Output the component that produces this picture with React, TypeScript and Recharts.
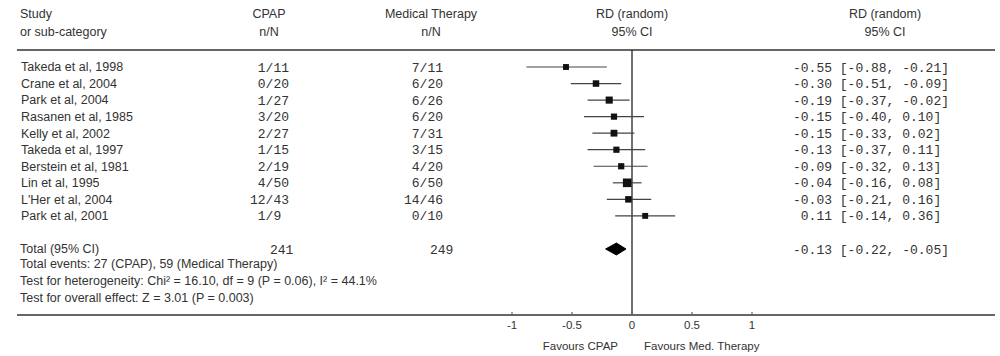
import React from 'react';
import { ComposedChart, Scatter, Area, XAxis, YAxis, ErrorBar, ReferenceLine } from 'recharts';

// ---------- data ----------
const studies = [
  'Takeda et al, 1998',
  'Crane et al, 2004',
  'Park et al, 2004',
  'Rasanen et al, 1985',
  'Kelly et al, 2002',
  'Takeda et al, 1997',
  'Berstein et al, 1981',
  'Lin et al, 1995',
  "L'Her et al, 2004",
  'Park et al, 2001',
];
const cpapEvents = [1, 0, 1, 3, 2, 1, 2, 4, 12, 1];
const cpapTotals = [11, 20, 27, 20, 27, 15, 19, 50, 43, 9];
const medEvents = [7, 6, 6, 6, 7, 3, 4, 6, 14, 0];
const medTotals = [11, 20, 26, 20, 31, 15, 20, 50, 46, 10];
const rd = [-0.55, -0.3, -0.19, -0.15, -0.15, -0.13, -0.09, -0.04, -0.03, 0.11];
const ciLow = [-0.88, -0.51, -0.37, -0.4, -0.33, -0.37, -0.32, -0.16, -0.21, -0.14];
const ciHigh = [-0.21, -0.09, -0.02, 0.1, 0.02, 0.11, 0.13, 0.08, 0.16, 0.36];
const weights = [8, 10, 12, 9, 11, 9, 9, 17, 10, 8];

const totalEffect = [-0.13, -0.22, -0.05]; // estimate, low, high
const heterogeneity = ['16.10', '9', '0.06', '44.1'];
const overallEffect = ['3.01', '0.003'];
const xTicks = [-1, -0.5, 0, 0.5, 1];

// ---------- layout ----------
const SANS = '"Liberation Sans", Arial, sans-serif';
const MONO = '"Liberation Mono", "Courier New", monospace';
const TEXT = '#333';

const NAME_X = 21;
const CPAP_X = 250;
const MED_X = 404;
const VAL_X = 793;
const CPAP_HEAD = 269;
const MED_HEAD = 431;
const PLOT_HEAD = 632;
const RIGHT_HEAD = 885;
const CPAP_TOTAL_X = 270;
const MED_TOTAL_X = 430;

const Y_TOP = -4.05;
const Y_BOTTOM = 14.99;
const HEADER_LINE = -1.0275;
const TOTAL_ROW = 11;

const fmt = (v: number) => (v < 0 ? '-' : '') + Math.abs(v).toFixed(2);
const fmtLead = (v: number) => (v < 0 ? '-' : ' ') + Math.abs(v).toFixed(2);
const ci = (e: number, l: number, h: number) => `${fmtLead(e)} [${fmt(l)}, ${fmt(h)}]`;
const nN = (e: number, n: number) => `${String(e).padStart(2, ' ')}/${String(n).padEnd(2, ' ')}`;
const sum = (a: number[]) => a.reduce((s, v) => s + v, 0);

type Cell = { x: number; text: string; anchor: 'start' | 'middle' | 'end'; mono?: boolean };
type Row = { pos: number; cells: Cell[] };

const tableRows: Row[] = [
  {
    pos: -3.2,
    cells: [
      { x: NAME_X - 1, text: 'Study', anchor: 'start' },
      { x: CPAP_HEAD, text: 'CPAP', anchor: 'middle' },
      { x: MED_HEAD, text: 'Medical Therapy', anchor: 'middle' },
      { x: PLOT_HEAD, text: 'RD (random)', anchor: 'middle' },
      { x: RIGHT_HEAD, text: 'RD (random)', anchor: 'middle' },
    ],
  },
  {
    pos: -2.11,
    cells: [
      { x: NAME_X - 1, text: 'or sub-category', anchor: 'start' },
      { x: CPAP_HEAD, text: 'n/N', anchor: 'middle' },
      { x: MED_HEAD, text: 'n/N', anchor: 'middle' },
      { x: PLOT_HEAD, text: '95% CI', anchor: 'middle' },
      { x: RIGHT_HEAD, text: '95% CI', anchor: 'middle' },
    ],
  },
  ...studies.map((s, i) => ({
    pos: i,
    cells: [
      { x: NAME_X, text: s, anchor: 'start' as const },
      { x: CPAP_X, text: nN(cpapEvents[i], cpapTotals[i]), anchor: 'start' as const, mono: true },
      { x: MED_X, text: nN(medEvents[i], medTotals[i]), anchor: 'start' as const, mono: true },
      { x: VAL_X, text: ci(rd[i], ciLow[i], ciHigh[i]), anchor: 'start' as const, mono: true },
    ],
  })),
  {
    pos: TOTAL_ROW,
    cells: [
      { x: NAME_X - 1, text: 'Total (95% CI)', anchor: 'start' },
      { x: CPAP_TOTAL_X, text: String(sum(cpapTotals)), anchor: 'start', mono: true },
      { x: MED_TOTAL_X, text: String(sum(medTotals)), anchor: 'start', mono: true },
      { x: VAL_X, text: ci(totalEffect[0], totalEffect[1], totalEffect[2]), anchor: 'start', mono: true },
    ],
  },
  {
    pos: 11.87,
    cells: [
      {
        x: NAME_X - 1,
        text: `Total events: ${sum(cpapEvents)} (CPAP), ${sum(medEvents)} (Medical Therapy)`,
        anchor: 'start',
      },
    ],
  },
  {
    pos: 12.89,
    cells: [
      {
        x: NAME_X - 1,
        text: `Test for heterogeneity: Chi\u00B2 = ${heterogeneity[0]}, df = ${heterogeneity[1]} (P = ${heterogeneity[2]}), I\u00B2 = ${heterogeneity[3]}%`,
        anchor: 'start',
      },
    ],
  },
  {
    pos: 13.92,
    cells: [
      {
        x: NAME_X - 1,
        text: `Test for overall effect: Z = ${overallEffect[0]} (P = ${overallEffect[1]})`,
        anchor: 'start',
      },
    ],
  },
];
const rowTicks = tableRows.map((r) => r.pos);

const points = studies.map((s, i) => ({
  name: s,
  x: rd[i],
  y: i,
  w: weights[i],
  err: [rd[i] - ciLow[i], ciHigh[i] - rd[i]],
}));

const DIAMOND_HALF = 0.36;
const diamond = [
  { x: totalEffect[1], band: [TOTAL_ROW, TOTAL_ROW] },
  { x: totalEffect[0], band: [TOTAL_ROW - DIAMOND_HALF, TOTAL_ROW + DIAMOND_HALF] },
  { x: totalEffect[2], band: [TOTAL_ROW, TOTAL_ROW] },
];

// ---------- renderers ----------
const RowTick = (props: any) => {
  const { y, payload } = props;
  const row = tableRows.find((r) => Math.abs(r.pos - Number(payload.value)) < 1e-3);
  if (!row) return <g />;
  return (
    <g>
      {row.cells.map((c, k) => (
        <text
          key={k}
          x={c.x}
          y={y}
          dy="0.35em"
          textAnchor={c.anchor}
          fontFamily={c.mono ? MONO : SANS}
          fontSize={c.mono ? 13 : 12.5}
          fill={TEXT}
          style={{ whiteSpace: 'pre' }}
        >
          {c.text}
        </text>
      ))}
    </g>
  );
};

const XTick = (props: any) => {
  const { x, y, payload } = props;
  return (
    <g>
      <line x1={x} x2={x} y1={y - 3} y2={y} stroke="#666" strokeWidth={1.2} />
      <text x={x} y={y + 14} textAnchor="middle" fontFamily={SANS} fontSize={11.5} fill={TEXT}>
        {String(payload.value)}
      </text>
      {payload.value === 0 && (
        <>
          <text x={x - 14} y={y + 35} textAnchor="end" fontFamily={SANS} fontSize={11.5} fill={TEXT}>
            Favours CPAP
          </text>
          <text x={x + 12} y={y + 35} textAnchor="start" fontFamily={SANS} fontSize={11.5} fill={TEXT}>
            Favours Med. Therapy
          </text>
        </>
      )}
    </g>
  );
};

const Square = (props: any) => {
  const { cx, cy, payload } = props;
  if (cx == null || cy == null) return null;
  const side = 3.5 + 0.3 * payload.w;
  return <rect x={cx - side / 2} y={cy - side / 2} width={side} height={side} fill="#111" />;
};

export default function App() {
  return (
    <div style={{ position: 'absolute', left: 0, top: 0, background: '#fff' }}>
      <ComposedChart width={1000} height={356} margin={{ top: 0, right: 5, bottom: 11, left: 16 }}>
        <XAxis
          type="number"
          dataKey="x"
          domain={[-5.125, 3.025]}
          ticks={xTicks}
          allowDataOverflow
          interval={0}
          tickLine={false}
          tickSize={0}
          tickMargin={0}
          height={30}
          axisLine={{ stroke: '#666', strokeWidth: 2 }}
          tick={(p: any) => <XTick {...p} />}
        />
        <YAxis
          type="number"
          dataKey="y"
          domain={[Y_TOP, Y_BOTTOM]}
          reversed
          allowDataOverflow
          ticks={rowTicks}
          interval={0}
          width={1}
          axisLine={false}
          tickLine={false}
          tickSize={0}
          tickMargin={0}
          tick={(p: any) => <RowTick {...p} />}
        />
        <ReferenceLine y={HEADER_LINE} stroke="#666" strokeWidth={2} />
        <ReferenceLine
          segment={[
            { x: 0, y: HEADER_LINE },
            { x: 0, y: Y_BOTTOM },
          ]}
          stroke="#222"
          strokeWidth={1.3}
        />
        <Scatter data={points} fill="#111" shape={(p: any) => <Square {...p} />} isAnimationActive={false}>
          <ErrorBar dataKey="err" direction="x" width={0} stroke="#444" strokeWidth={1.2} isAnimationActive={false} />
        </Scatter>
        <Area
          data={diamond}
          dataKey="band"
          type="linear"
          stroke="#000"
          strokeWidth={1}
          fill="#000"
          fillOpacity={1}
          dot={false}
          activeDot={false}
          isAnimationActive={false}
        />
      </ComposedChart>
    </div>
  );
}
